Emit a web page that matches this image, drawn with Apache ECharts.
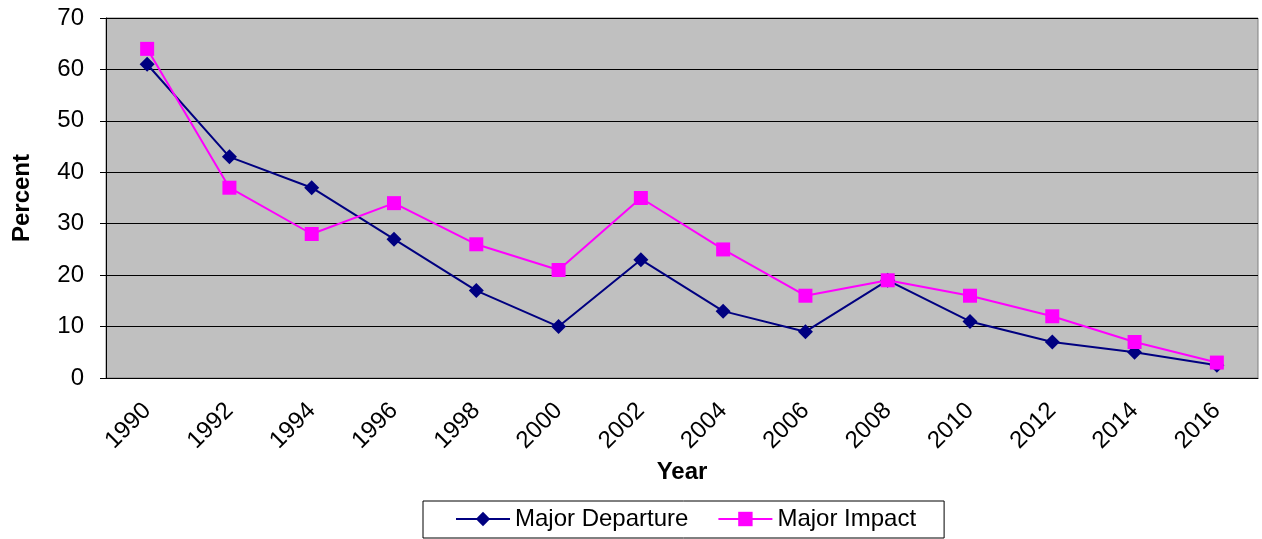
<!DOCTYPE html>
<html>
<head>
<meta charset="utf-8">
<script src="https://cdn.jsdelivr.net/npm/echarts@6/dist/echarts.min.js"></script>
<style>
  html, body { margin: 0; padding: 0; background: #fff; }
  #chart { width: 1262px; height: 539px; }
</style>
</head>
<body>
<div id="chart"></div>
<script>
// 数据
const years = ['1990', '1992', '1994', '1996', '1998', '2000', '2002', '2004', '2006', '2008', '2010', '2012', '2014', '2016'];
const majorDeparture = [61, 43, 37, 27, 17, 10, 23, 13, 9, 19, 11, 7, 5, 2.5];
const majorImpact = [64, 37, 28, 34, 26, 21, 35, 25, 16, 19, 16, 12, 7, 3];

const font = '"Liberation Sans", Arial, sans-serif';
const chart = echarts.init(document.getElementById('chart'));

chart.setOption({
  animation: false,
  textStyle: { fontFamily: font },
  grid: {
    left: 106, right: 4, top: 18, bottom: 161,
    show: true, backgroundColor: '#c0c0c0', borderColor: '#808080', borderWidth: 1
  },
  legend: {
    left: 423, top: 501,
    padding: [6, 28, 7, 32],
    itemGap: 29, itemWidth: 54, itemHeight: 18,
    borderColor: '#000', borderWidth: 1,
    textStyle: { fontSize: 24, color: '#000', fontFamily: font },
    data: ['Major Departure', 'Major Impact']
  },
  xAxis: {
    type: 'category',
    data: years,
    name: 'Year', nameLocation: 'middle', nameGap: 80,
    nameTextStyle: { fontSize: 24, fontWeight: 'bold', color: '#000', fontFamily: font },
    axisLine: { lineStyle: { color: '#000' } },
    axisTick: { length: 6, lineStyle: { color: '#000' } },
    axisLabel: { rotate: 45, fontSize: 24, color: '#000', margin: 29, fontFamily: font }
  },
  yAxis: {
    type: 'value', min: 0, max: 70, interval: 10,
    name: 'Percent', nameLocation: 'middle', nameGap: 72,
    nameTextStyle: { fontSize: 24, fontWeight: 'bold', color: '#000', fontFamily: font },
    axisLine: { show: true, lineStyle: { color: '#000' } },
    axisTick: { show: true, length: 6, lineStyle: { color: '#000' } },
    axisLabel: { fontSize: 24, color: '#000', margin: 22, fontFamily: font },
    splitLine: { lineStyle: { color: '#000', width: 1 } }
  },
  series: [
    {
      name: 'Major Departure', type: 'line', data: majorDeparture,
      symbol: 'diamond', symbolSize: 15,
      lineStyle: { color: '#000080', width: 2 },
      itemStyle: { color: '#000080' }
    },
    {
      name: 'Major Impact', type: 'line', data: majorImpact,
      symbol: 'rect', symbolSize: 14,
      lineStyle: { color: '#ff00ff', width: 2 },
      itemStyle: { color: '#ff00ff' }
    }
  ]
});
</script>
</body>
</html>
